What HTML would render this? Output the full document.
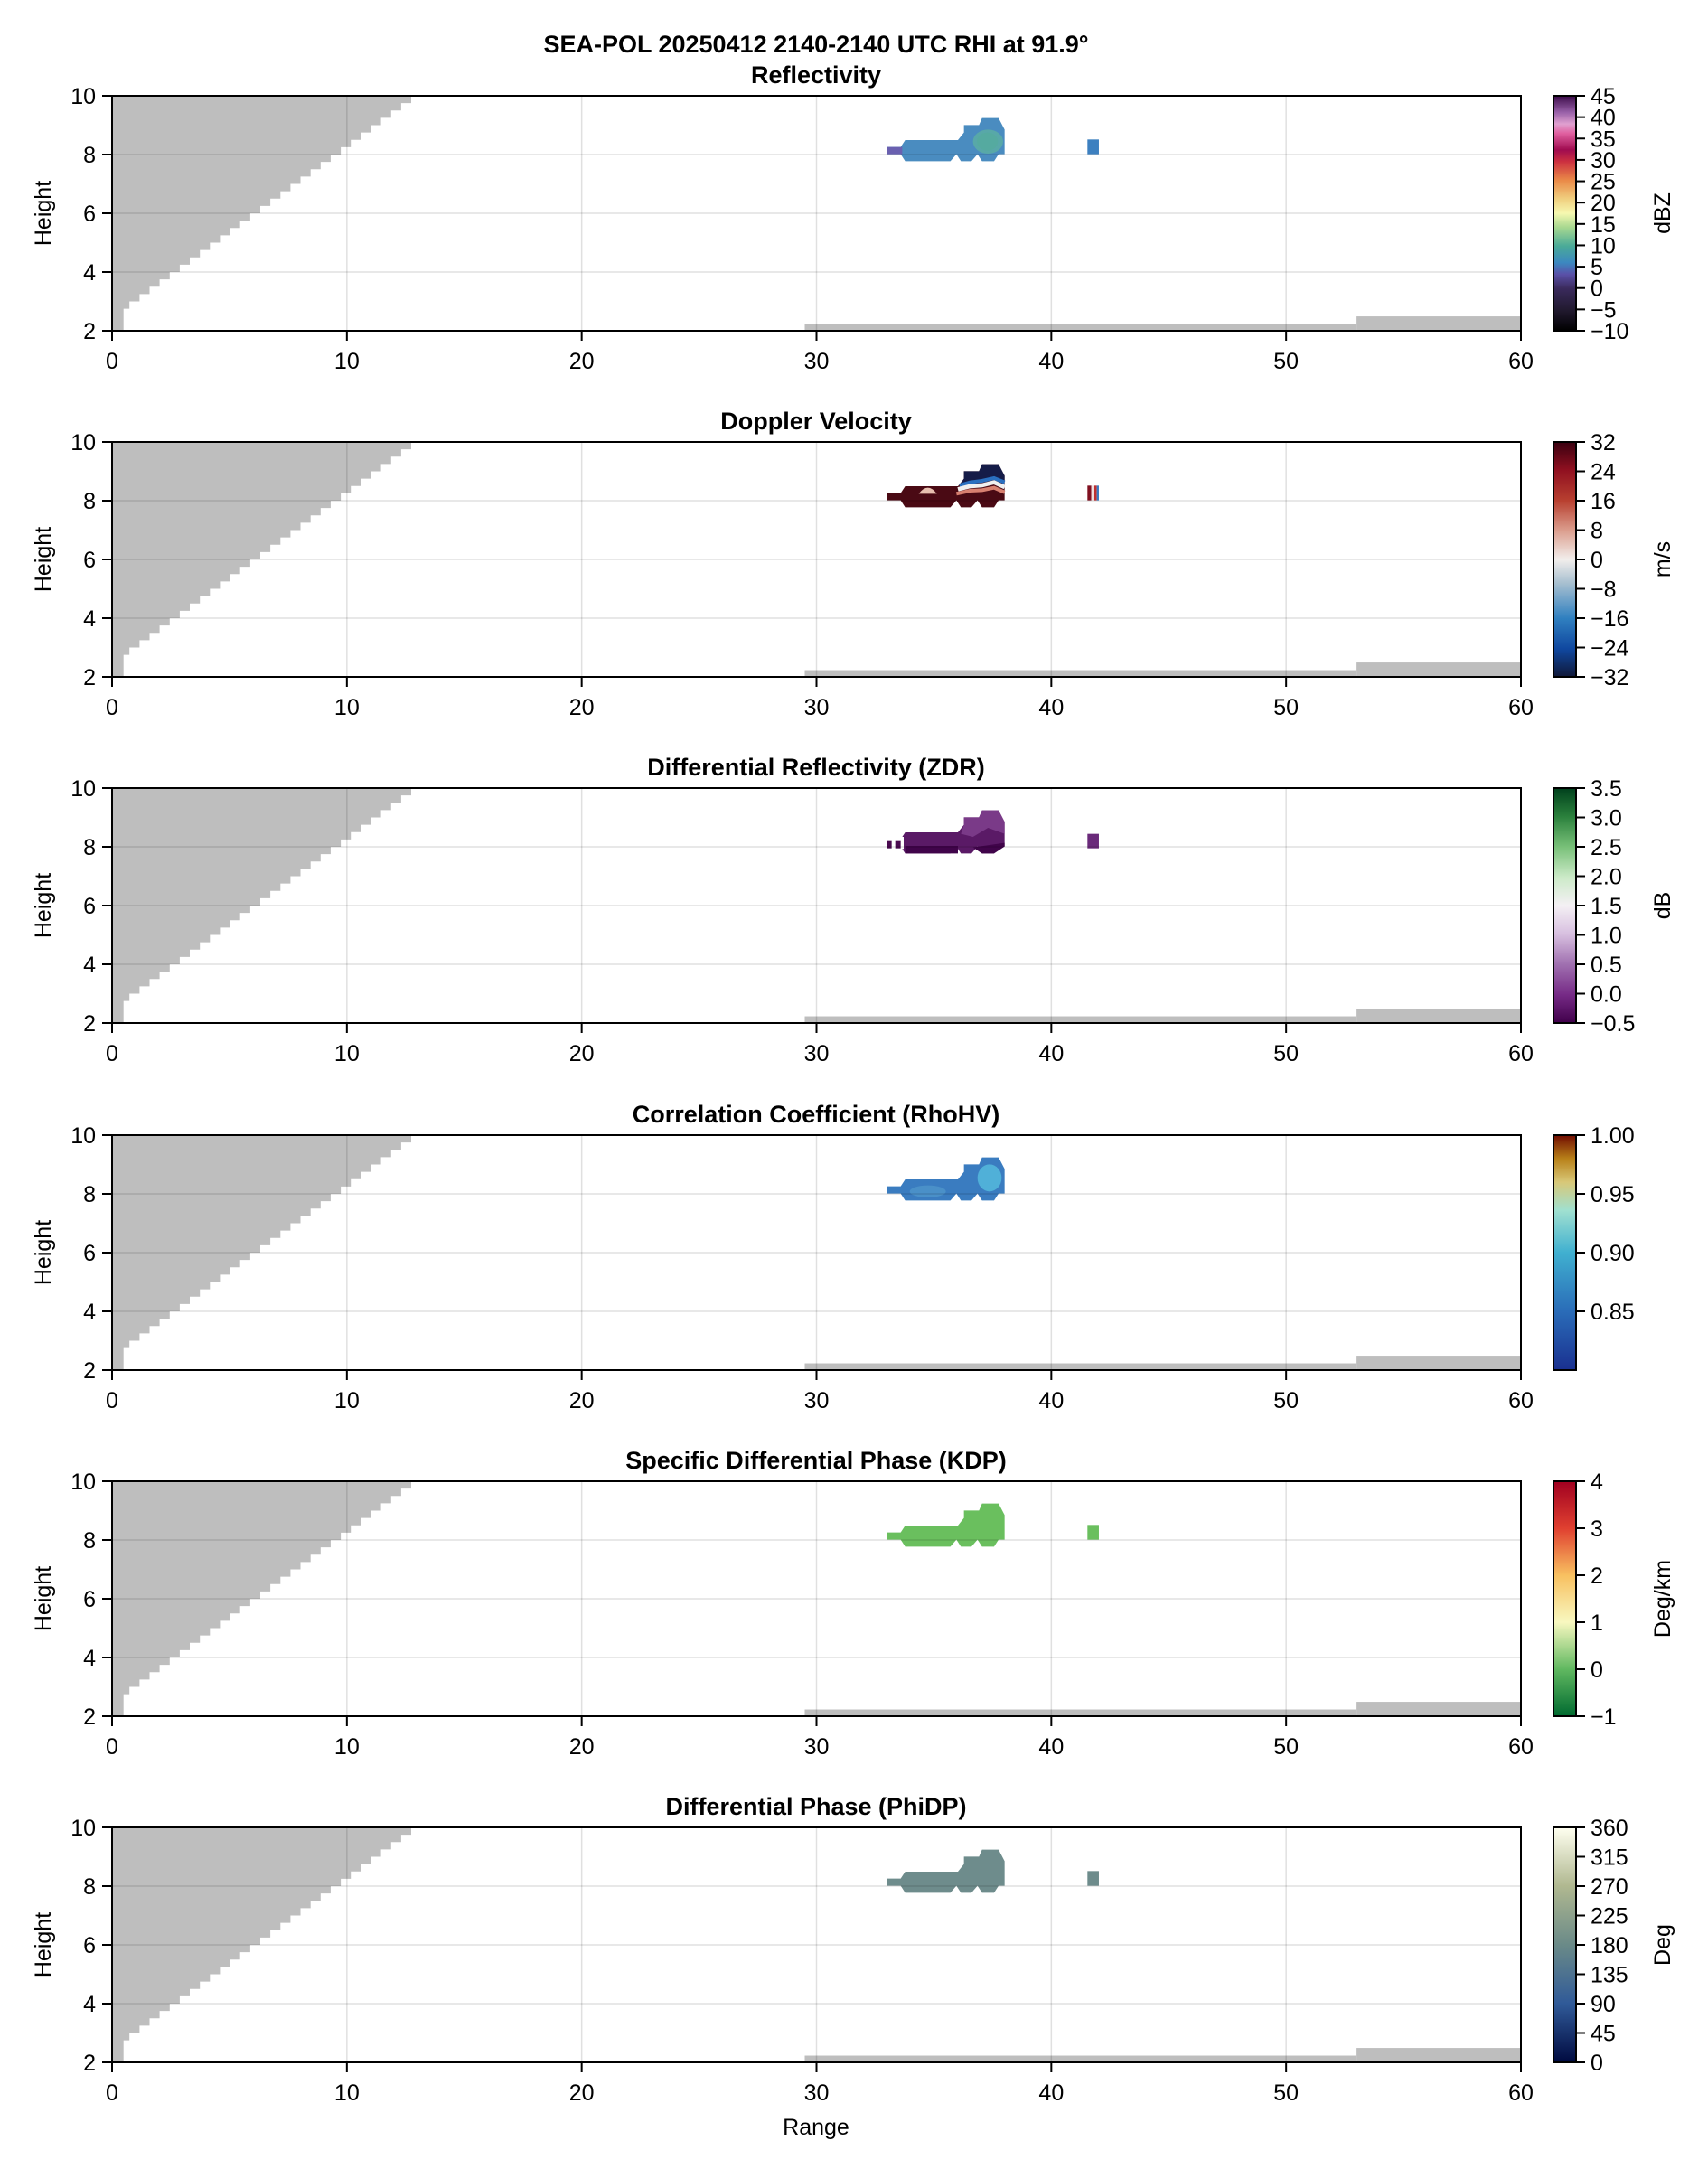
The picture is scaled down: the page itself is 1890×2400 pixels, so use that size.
<!DOCTYPE html>
<html><head><meta charset="utf-8"><style>
html,body{margin:0;padding:0;background:#fff}
svg{display:block}
text{font-family:"Liberation Sans",sans-serif;fill:#000}
</style></head><body>
<svg id="s" width="1890" height="2400" xmlns="http://www.w3.org/2000/svg">
<defs>
<linearGradient id="g0" x1="0" y1="1" x2="0" y2="0">
<stop offset="0" stop-color="#000000"/><stop offset="0.09" stop-color="#221a30"/><stop offset="0.18" stop-color="#3a2a5c"/><stop offset="0.24" stop-color="#5a50a8"/><stop offset="0.29" stop-color="#3c88c0"/><stop offset="0.36" stop-color="#4aaa98"/><stop offset="0.44" stop-color="#a8d890"/><stop offset="0.50" stop-color="#f6f8b0"/><stop offset="0.56" stop-color="#f0d080"/><stop offset="0.64" stop-color="#ea8a48"/><stop offset="0.72" stop-color="#cc3040"/><stop offset="0.77" stop-color="#a00c50"/><stop offset="0.84" stop-color="#e060a0"/><stop offset="0.88" stop-color="#e0a0d0"/><stop offset="0.93" stop-color="#9860a8"/><stop offset="1" stop-color="#3a0a48"/></linearGradient>
<linearGradient id="g1" x1="0" y1="1" x2="0" y2="0">
<stop offset="0" stop-color="#101838"/><stop offset="0.12" stop-color="#1048a0"/><stop offset="0.25" stop-color="#3080c0"/><stop offset="0.4" stop-color="#a8c0d0"/><stop offset="0.5" stop-color="#f2eeec"/><stop offset="0.62" stop-color="#dca090"/><stop offset="0.75" stop-color="#b84030"/><stop offset="0.88" stop-color="#901020"/><stop offset="1" stop-color="#3a0010"/></linearGradient>
<linearGradient id="g2" x1="0" y1="1" x2="0" y2="0">
<stop offset="0" stop-color="#40004a"/><stop offset="0.12" stop-color="#762a86"/><stop offset="0.25" stop-color="#a070b0"/><stop offset="0.38" stop-color="#d8c0e0"/><stop offset="0.5" stop-color="#f4f0f4"/><stop offset="0.62" stop-color="#cceac8"/><stop offset="0.75" stop-color="#78c078"/><stop offset="0.88" stop-color="#2a803c"/><stop offset="1" stop-color="#00401c"/></linearGradient>
<linearGradient id="g3" x1="0" y1="1" x2="0" y2="0">
<stop offset="0" stop-color="#1a3090"/><stop offset="0.25" stop-color="#2a6cb8"/><stop offset="0.5" stop-color="#40b0d0"/><stop offset="0.68" stop-color="#a0e0d0"/><stop offset="0.8" stop-color="#d8c878"/><stop offset="0.9" stop-color="#b88018"/><stop offset="1" stop-color="#700a00"/></linearGradient>
<linearGradient id="g4" x1="0" y1="1" x2="0" y2="0">
<stop offset="0" stop-color="#006a30"/><stop offset="0.2" stop-color="#60b860"/><stop offset="0.4" stop-color="#f8f8c0"/><stop offset="0.6" stop-color="#f8c060"/><stop offset="0.8" stop-color="#e04030"/><stop offset="1" stop-color="#a00020"/></linearGradient>
<linearGradient id="g5" x1="0" y1="1" x2="0" y2="0">
<stop offset="0" stop-color="#000a40"/><stop offset="0.25" stop-color="#305a98"/><stop offset="0.5" stop-color="#6a8a88"/><stop offset="0.75" stop-color="#b0b890"/><stop offset="1" stop-color="#fffff0"/></linearGradient>
</defs>
<text x="903" y="58" text-anchor="middle" font-size="27" font-weight="bold">SEA-POL 20250412 2140-2140 UTC RHI at 91.9°</text>
<text x="903" y="2362" text-anchor="middle" font-size="25">Range</text>
</svg>
<script>
var S=document.getElementById('s'),NS='http://www.w3.org/2000/svg';
function el(t,a,txt,p){var e=document.createElementNS(NS,t);for(var k in a)e.setAttribute(k,a[k]);if(txt!=null)e.textContent=txt;(p||S).appendChild(e);return e;}
var T=[106,489,872,1256,1639,2022],L=124,R=1683,H=260;
var titles=['Reflectivity','Doppler Velocity','Differential Reflectivity (ZDR)','Correlation Coefficient (RhoHV)','Specific Differential Phase (KDP)','Differential Phase (PhiDP)'];
var cb=[
{lo:-10,hi:45,t:[-10,-5,0,5,10,15,20,25,30,35,40,45],f:function(v){return v},lab:'dBZ'},
{lo:-32,hi:32,t:[-32,-24,-16,-8,0,8,16,24,32],f:function(v){return v},lab:'m/s'},
{lo:-0.5,hi:3.5,t:[-0.5,0,0.5,1,1.5,2,2.5,3,3.5],f:function(v){return v.toFixed(1)},lab:'dB'},
{lo:0.8,hi:1.0,t:[0.85,0.9,0.95,1.0],f:function(v){return v.toFixed(2)},lab:''},
{lo:-1,hi:4,t:[-1,0,1,2,3,4],f:function(v){return v},lab:'Deg/km'},
{lo:0,hi:360,t:[0,45,90,135,180,225,270,315,360],f:function(v){return v},lab:'Deg'}];
var sx=(R-L)/60;
function X(k){return L+k*sx}
var shape="M65,158 L110,158 L125,135 L300,135 L320,110 L320,85 L370,85 L380,62 L435,62 L455,100 L455,182 L435,182 L420,205 L380,205 L365,182 L345,205 L310,205 L295,182 L275,205 L125,205 L110,182 L65,182 Z";
for(var i=0;i<6;i++){
 var t=T[i],b=t+H;function Y(h){return b-(h-2)*H/8}
 el('text',{x:903,y:t-14,'text-anchor':'middle','font-size':27,'font-weight':'bold'},titles[i]);
 var pts=[[L,t]],xe;
 for(var h=10;h>2.75;h-=0.25){xe=0.74+12*(h-0.25-2.75)/7;pts.push([X(xe),Y(h)]);pts.push([X(xe),Y(h-0.25)]);}
 pts.push([X(0.49),Y(2.75)]);pts.push([X(0.49),b]);pts.push([L,b]);
 el('polygon',{points:pts.map(function(p){return p[0].toFixed(1)+','+p[1].toFixed(1)}).join(' '),fill:'#bebebe'});
 el('rect',{x:X(29.5),y:Y(2.23),width:X(53)-X(29.5),height:b-Y(2.23),fill:'#bebebe'});
 el('rect',{x:X(53),y:Y(2.49),width:R-X(53),height:b-Y(2.49),fill:'#bebebe'});
 var g=el('g',{transform:'translate(960,'+(t+4)+') scale(0.3333)'});
 var fills=['#4a8cc0','#4a0a14','#5a1a66','#3a7cc0','#6abf5e','#6e8c8c'];
 el('path',{d:shape,fill:fills[i]},null,g);
 if(i==0){el('rect',{x:65,y:158,width:50,height:24,fill:'#6a60b0'},null,g);el('ellipse',{cx:400,cy:140,rx:50,ry:40,fill:'#58a8a8'},null,g);el('ellipse',{cx:398,cy:140,rx:35,ry:30,fill:'#55aaa0'},null,g);el('rect',{x:730,y:133,width:38,height:49,fill:'#3d80c0'},null,g);}
 if(i==1){el('path',{d:'M320,110 L320,85 L370,85 L380,62 L435,62 L455,100 L455,120 L420,105 L380,115 L340,120 L305,130 Z',fill:'#151c48'},null,g);
  el('path',{d:'M305,132 L340,122 L380,117 L420,108 L455,122',fill:'none',stroke:'#2a70c0','stroke-width':12},null,g);
  el('path',{d:'M300,145 L340,135 L380,132 L420,122 L455,138',fill:'none',stroke:'#f0f0f0','stroke-width':14},null,g);
  el('path',{d:'M295,160 L340,150 L380,148 L420,140 L455,155',fill:'none',stroke:'#d88070','stroke-width':12},null,g);
  el('path',{d:'M170,160 Q200,120 230,160',fill:'#e8c0b0'},null,g);
  el('rect',{x:730,y:133,width:13,height:49,fill:'#801020'},null,g);el('rect',{x:743,y:133,width:10,height:49,fill:'#f0e0e0'},null,g);el('rect',{x:753,y:133,width:8,height:49,fill:'#c03030'},null,g);el('rect',{x:761,y:133,width:7,height:49,fill:'#3a7ac0'},null,g);}
 if(i==2){el('rect',{x:60,y:150,width:60,height:40,fill:'#fff'},null,g);el('rect',{x:65,y:164,width:15,height:24,fill:'#4a0a50'},null,g);el('rect',{x:92,y:164,width:18,height:24,fill:'#4a0a50'},null,g);
  el('path',{d:'M320,110 L320,85 L370,85 L380,62 L435,62 L455,100 L455,140 L400,120 L350,150 L310,140 Z',fill:'#7a3a88'},null,g);
  el('path',{d:'M125,180 L300,180 L300,205 L125,205 Z M350,185 L455,170 L455,182 L420,205 L380,205 Z',fill:'#40044a'},null,g);
  el('rect',{x:730,y:140,width:38,height:48,fill:'#6a2a7a'},null,g);}
 if(i==3){el('ellipse',{cx:405,cy:130,rx:40,ry:45,fill:'#50b0d8'},null,g);el('ellipse',{cx:200,cy:175,rx:60,ry:20,fill:'#4a90c8'},null,g);}
 if(i==4){el('rect',{x:730,y:133,width:38,height:49,fill:'#6abf5e'},null,g);}
 if(i==5){el('rect',{x:730,y:133,width:38,height:49,fill:'#6e8c8c'},null,g);}
 for(var k=10;k<60;k+=10)el('line',{x1:X(k),y1:t,x2:X(k),y2:b,stroke:'rgba(0,0,0,0.12)','stroke-width':1.5});
 for(var h=4;h<10;h+=2)el('line',{x1:L,y1:Y(h),x2:R,y2:Y(h),stroke:'rgba(0,0,0,0.12)','stroke-width':1.5});
 el('rect',{x:L,y:t,width:R-L,height:H,fill:'none',stroke:'#000','stroke-width':2});
 for(var k=0;k<=60;k+=10){el('line',{x1:X(k),y1:b,x2:X(k),y2:b+11,stroke:'#000','stroke-width':2});el('text',{x:X(k),y:b+42,'text-anchor':'middle','font-size':25},k);}
 for(var h=2;h<=10;h+=2){el('line',{x1:L-11,y1:Y(h),x2:L,y2:Y(h),stroke:'#000','stroke-width':2});el('text',{x:L-18,y:Y(h)+9,'text-anchor':'end','font-size':25},h);}
 el('text',{x:0,y:0,'text-anchor':'middle','font-size':25,transform:'translate(56,'+(t+130)+') rotate(-90)'},'Height');
 var c=cb[i];el('rect',{x:1719,y:t,width:25,height:H,fill:'url(#g'+i+')',stroke:'#000','stroke-width':2});
 for(var j=0;j<c.t.length;j++){var v=c.t[j],yy=b-(v-c.lo)/(c.hi-c.lo)*H;el('line',{x1:1744,y1:yy,x2:1754,y2:yy,stroke:'#000','stroke-width':2});
  el('text',{x:1760,y:yy+9,'font-size':25},String(c.f(v)).replace('-','\u2212'));}
 if(c.lab)el('text',{x:0,y:0,'text-anchor':'middle','font-size':25,transform:'translate(1848,'+(t+130)+') rotate(-90)'},c.lab);
}
</script>
</body></html>
